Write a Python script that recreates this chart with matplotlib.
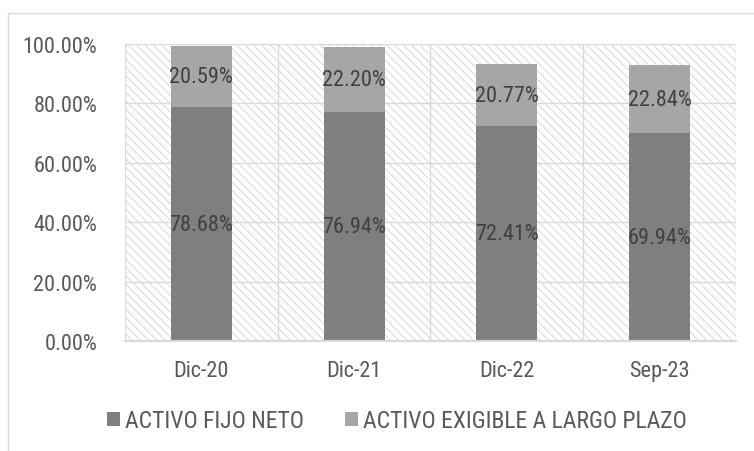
import matplotlib
matplotlib.use("Agg")
import matplotlib.pyplot as plt
from matplotlib.patches import Rectangle
import numpy as np

# datos del gráfico
categorias = ['Dic-20', 'Dic-21', 'Dic-22', 'Sep-23']
activo_fijo_neto = [78.68, 76.94, 72.41, 69.94]
activo_exigible = [20.59, 22.20, 20.77, 22.84]
series_nombres = ['ACTIVO FIJO NETO', 'ACTIVO EXIGIBLE A LARGO PLAZO']
y_ticks = [0, 20, 40, 60, 80, 100]

# fuente estrecha tipo Arial Narrow
plt.rcParams['font.family'] = ['Liberation Sans Narrow', 'Roboto Condensed',
                               'Archivo Narrow', 'DejaVu Sans']
plt.rcParams['hatch.color'] = '#dcdcdc'
plt.rcParams['hatch.linewidth'] = 0.7

col_fijo = '#7f7f7f'
col_exig = '#a6a6a6'
col_texto = '#595959'
col_grid = '#d9d9d9'
tam = 16

fig = plt.figure(figsize=(7.54, 4.52), dpi=100)
# borde exterior del gráfico
fig.patches.append(Rectangle((8 / 754, -0.05), 1.0, 1 - 14 / 452 + 0.05,
                             transform=fig.transFigure, fill=False,
                             edgecolor=col_grid, linewidth=1.0))

ax = fig.add_axes([125 / 754, 1 - 342 / 452, (736 - 125) / 754, (342 - 45) / 452])

x = np.arange(len(categorias))
fijo = np.array(activo_fijo_neto) / 100
exig = np.array(activo_exigible) / 100

# fondo rayado del área de trazado
ax.add_patch(Rectangle((0, 0), 1, 1, transform=ax.transAxes, facecolor='white',
                       hatch='\\\\\\\\', edgecolor=col_grid, linewidth=0, zorder=0))

b1 = ax.bar(x, fijo, width=0.4, color=col_fijo, label=series_nombres[0], zorder=3)
b2 = ax.bar(x, exig, width=0.4, bottom=fijo, color=col_exig, label=series_nombres[1], zorder=3)

for i in range(len(categorias)):
    ax.text(x[i], fijo[i] / 2, f'{activo_fijo_neto[i]:.2f}%', ha='center', va='center',
            fontsize=tam, color='#404040', zorder=4)
    ax.text(x[i], fijo[i] + exig[i] / 2, f'{activo_exigible[i]:.2f}%', ha='center', va='center',
            fontsize=tam, color='#404040', zorder=4)

ax.set_xlim(-0.5, len(categorias) - 0.5)
ax.set_ylim(0, 1)
ax.set_yticks(np.array(y_ticks) / 100)
ax.set_yticklabels([f'{v:.2f}%' for v in y_ticks])
ax.set_xticks(x)
ax.set_xticklabels(categorias)
ax.tick_params(axis='both', length=0, labelsize=tam, labelcolor=col_texto)
ax.tick_params(axis='y', pad=20)
ax.tick_params(axis='x', pad=14)

# líneas de cuadrícula
for yv in y_ticks:
    ax.axhline(yv / 100, color=col_grid, linewidth=1.0, zorder=1)
for xv in np.arange(-0.5, len(categorias), 1.0):
    ax.axvline(xv, color=col_grid, linewidth=1.0, zorder=1)

for s in ['top', 'right', 'left']:
    ax.spines[s].set_visible(False)
ax.spines['bottom'].set_color(col_grid)
ax.spines['bottom'].set_linewidth(1.5)
ax.spines['bottom'].set_zorder(5)

fig.legend(handles=[b1, b2], labels=series_nombres, loc='center',
           bbox_to_anchor=(397 / 754, 1 - 422 / 452), ncol=2, frameon=False,
           fontsize=17, labelcolor=col_texto, handlelength=0.55, handleheight=0.55,
           handletextpad=0.2, columnspacing=1.75)

fig.savefig('out.png', dpi=100)
